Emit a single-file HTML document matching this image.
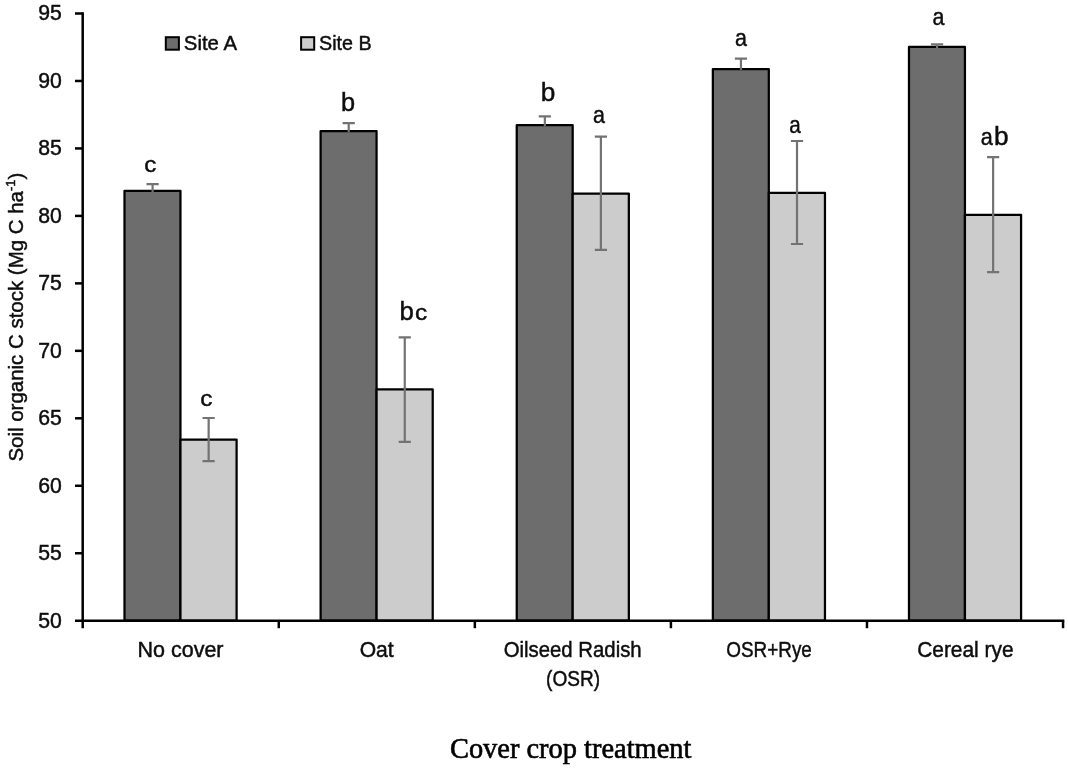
<!DOCTYPE html>
<html lang="en"><head><meta charset="utf-8"><title>Soil organic C stock by cover crop treatment</title>
<style>html,body{margin:0;padding:0;background:#fff}svg{display:block}</style></head>
<body>
<svg width="1068" height="772" viewBox="0 0 1068 772">
<rect width="1068" height="772" fill="#fff"/>
<rect x="124.50" y="190.85" width="55.95" height="429.85" fill="#6d6d6d" stroke="#000" stroke-width="2.25" stroke-linejoin="round"/>
<rect x="180.45" y="439.60" width="56.15" height="181.10" fill="#cccccc" stroke="#000" stroke-width="2.25" stroke-linejoin="round"/>
<rect x="320.62" y="131.20" width="55.95" height="489.50" fill="#6d6d6d" stroke="#000" stroke-width="2.25" stroke-linejoin="round"/>
<rect x="376.57" y="389.40" width="56.15" height="231.30" fill="#cccccc" stroke="#000" stroke-width="2.25" stroke-linejoin="round"/>
<rect x="516.74" y="125.20" width="55.95" height="495.50" fill="#6d6d6d" stroke="#000" stroke-width="2.25" stroke-linejoin="round"/>
<rect x="572.69" y="193.50" width="56.15" height="427.20" fill="#cccccc" stroke="#000" stroke-width="2.25" stroke-linejoin="round"/>
<rect x="712.86" y="69.00" width="55.95" height="551.70" fill="#6d6d6d" stroke="#000" stroke-width="2.25" stroke-linejoin="round"/>
<rect x="768.81" y="192.80" width="56.15" height="427.90" fill="#cccccc" stroke="#000" stroke-width="2.25" stroke-linejoin="round"/>
<rect x="908.98" y="46.90" width="55.95" height="573.80" fill="#6d6d6d" stroke="#000" stroke-width="2.25" stroke-linejoin="round"/>
<rect x="964.93" y="214.90" width="56.15" height="405.80" fill="#cccccc" stroke="#000" stroke-width="2.25" stroke-linejoin="round"/>
<path d="M146.50 184.20H158.70M152.60 184.20V191.95" stroke="#737373" stroke-width="2.2" fill="none"/>
<path d="M202.55 418.00H214.75M208.65 418.00V461.10M202.55 461.10H214.75" stroke="#737373" stroke-width="2.2" fill="none"/>
<path d="M342.62 123.10H354.82M348.72 123.10V132.30" stroke="#737373" stroke-width="2.2" fill="none"/>
<path d="M398.67 337.30H410.87M404.77 337.30V441.90M398.67 441.90H410.87" stroke="#737373" stroke-width="2.2" fill="none"/>
<path d="M538.74 116.30H550.94M544.84 116.30V126.30" stroke="#737373" stroke-width="2.2" fill="none"/>
<path d="M594.79 136.60H606.99M600.89 136.60V249.80M594.79 249.80H606.99" stroke="#737373" stroke-width="2.2" fill="none"/>
<path d="M734.86 58.70H747.06M740.96 58.70V70.10" stroke="#737373" stroke-width="2.2" fill="none"/>
<path d="M790.91 141.00H803.11M797.01 141.00V244.00M790.91 244.00H803.11" stroke="#737373" stroke-width="2.2" fill="none"/>
<path d="M930.98 44.30H943.18M937.08 44.30V48.00" stroke="#737373" stroke-width="2.2" fill="none"/>
<path d="M987.03 157.10H999.23M993.13 157.10V272.20M987.03 272.20H999.23" stroke="#737373" stroke-width="2.2" fill="none"/>
<path d="M82.7 12.25V628.20M75.00 620.7H1064.30" stroke="#000" stroke-width="2.5" fill="none"/>
<path d="M75.00 13.50H82.7" stroke="#000" stroke-width="2.5"/>
<text x="61.8" y="20.40" text-anchor="end" font-family='"Liberation Sans", sans-serif' font-size="21.2" fill="#0d0d0d" stroke="#0d0d0d" stroke-width="0.45" textLength="23.6" lengthAdjust="spacingAndGlyphs">95</text>
<path d="M75.00 80.97H82.7" stroke="#000" stroke-width="2.5"/>
<text x="61.8" y="87.87" text-anchor="end" font-family='"Liberation Sans", sans-serif' font-size="21.2" fill="#0d0d0d" stroke="#0d0d0d" stroke-width="0.45" textLength="23.6" lengthAdjust="spacingAndGlyphs">90</text>
<path d="M75.00 148.43H82.7" stroke="#000" stroke-width="2.5"/>
<text x="61.8" y="155.33" text-anchor="end" font-family='"Liberation Sans", sans-serif' font-size="21.2" fill="#0d0d0d" stroke="#0d0d0d" stroke-width="0.45" textLength="23.6" lengthAdjust="spacingAndGlyphs">85</text>
<path d="M75.00 215.90H82.7" stroke="#000" stroke-width="2.5"/>
<text x="61.8" y="222.80" text-anchor="end" font-family='"Liberation Sans", sans-serif' font-size="21.2" fill="#0d0d0d" stroke="#0d0d0d" stroke-width="0.45" textLength="23.6" lengthAdjust="spacingAndGlyphs">80</text>
<path d="M75.00 283.37H82.7" stroke="#000" stroke-width="2.5"/>
<text x="61.8" y="290.27" text-anchor="end" font-family='"Liberation Sans", sans-serif' font-size="21.2" fill="#0d0d0d" stroke="#0d0d0d" stroke-width="0.45" textLength="23.6" lengthAdjust="spacingAndGlyphs">75</text>
<path d="M75.00 350.83H82.7" stroke="#000" stroke-width="2.5"/>
<text x="61.8" y="357.73" text-anchor="end" font-family='"Liberation Sans", sans-serif' font-size="21.2" fill="#0d0d0d" stroke="#0d0d0d" stroke-width="0.45" textLength="23.6" lengthAdjust="spacingAndGlyphs">70</text>
<path d="M75.00 418.30H82.7" stroke="#000" stroke-width="2.5"/>
<text x="61.8" y="425.20" text-anchor="end" font-family='"Liberation Sans", sans-serif' font-size="21.2" fill="#0d0d0d" stroke="#0d0d0d" stroke-width="0.45" textLength="23.6" lengthAdjust="spacingAndGlyphs">65</text>
<path d="M75.00 485.77H82.7" stroke="#000" stroke-width="2.5"/>
<text x="61.8" y="492.67" text-anchor="end" font-family='"Liberation Sans", sans-serif' font-size="21.2" fill="#0d0d0d" stroke="#0d0d0d" stroke-width="0.45" textLength="23.6" lengthAdjust="spacingAndGlyphs">60</text>
<path d="M75.00 553.23H82.7" stroke="#000" stroke-width="2.5"/>
<text x="61.8" y="560.13" text-anchor="end" font-family='"Liberation Sans", sans-serif' font-size="21.2" fill="#0d0d0d" stroke="#0d0d0d" stroke-width="0.45" textLength="23.6" lengthAdjust="spacingAndGlyphs">55</text>
<text x="61.8" y="627.60" text-anchor="end" font-family='"Liberation Sans", sans-serif' font-size="21.2" fill="#0d0d0d" stroke="#0d0d0d" stroke-width="0.45" textLength="23.6" lengthAdjust="spacingAndGlyphs">50</text>
<path d="M278.77 620.7V628.20" stroke="#000" stroke-width="2.5"/>
<path d="M474.84 620.7V628.20" stroke="#000" stroke-width="2.5"/>
<path d="M670.91 620.7V628.20" stroke="#000" stroke-width="2.5"/>
<path d="M866.98 620.7V628.20" stroke="#000" stroke-width="2.5"/>
<path d="M1063.05 620.7V628.20" stroke="#000" stroke-width="2.5"/>
<text x="180.50" y="657.2" text-anchor="middle" font-family='"Liberation Sans", sans-serif' font-size="21.3" fill="#0d0d0d" stroke="#0d0d0d" stroke-width="0.45" textLength="86" lengthAdjust="spacingAndGlyphs">No cover</text>
<text x="376.70" y="657.2" text-anchor="middle" font-family='"Liberation Sans", sans-serif' font-size="21.3" fill="#0d0d0d" stroke="#0d0d0d" stroke-width="0.45" textLength="34" lengthAdjust="spacingAndGlyphs">Oat</text>
<text x="572.70" y="657.2" text-anchor="middle" font-family='"Liberation Sans", sans-serif' font-size="21.3" fill="#0d0d0d" stroke="#0d0d0d" stroke-width="0.45" textLength="138" lengthAdjust="spacingAndGlyphs">Oilseed Radish</text>
<text x="573.10" y="686.4" text-anchor="middle" font-family='"Liberation Sans", sans-serif' font-size="21.3" fill="#0d0d0d" stroke="#0d0d0d" stroke-width="0.45" textLength="54" lengthAdjust="spacingAndGlyphs">(OSR)</text>
<text x="769.10" y="657.2" text-anchor="middle" font-family='"Liberation Sans", sans-serif' font-size="21.3" fill="#0d0d0d" stroke="#0d0d0d" stroke-width="0.45" textLength="85.5" lengthAdjust="spacingAndGlyphs">OSR+Rye</text>
<text x="965.40" y="657.2" text-anchor="middle" font-family='"Liberation Sans", sans-serif' font-size="21.3" fill="#0d0d0d" stroke="#0d0d0d" stroke-width="0.45" textLength="96.5" lengthAdjust="spacingAndGlyphs">Cereal rye</text>
<rect x="165.8" y="37.2" width="13.1" height="12.5" fill="#6d6d6d" stroke="#000" stroke-width="2"/>
<rect x="301.1" y="37.2" width="13.1" height="12.5" fill="#cccccc" stroke="#000" stroke-width="2"/>
<text x="183.8" y="50" font-family='"Liberation Sans", sans-serif' font-size="20.6" fill="#0d0d0d" stroke="#0d0d0d" stroke-width="0.45" textLength="53.2" lengthAdjust="spacingAndGlyphs">Site A</text>
<text x="319.1" y="50" font-family='"Liberation Sans", sans-serif' font-size="20.6" fill="#0d0d0d" stroke="#0d0d0d" stroke-width="0.45" textLength="52.6" lengthAdjust="spacingAndGlyphs">Site B</text>
<text x="144.36" y="172.2" font-family='"Liberation Sans", sans-serif' font-size="22.4" fill="#0d0d0d" stroke="#0d0d0d" stroke-width="0.45" textLength="12.06" lengthAdjust="spacingAndGlyphs">c</text>
<text x="200.35" y="406.1" font-family='"Liberation Sans", sans-serif' font-size="22.4" fill="#0d0d0d" stroke="#0d0d0d" stroke-width="0.45" textLength="12.18" lengthAdjust="spacingAndGlyphs">c</text>
<text x="340.93" y="111.2" font-family='"Liberation Sans", sans-serif' font-size="25.2" fill="#0d0d0d" stroke="#0d0d0d" stroke-width="0.45" textLength="14.09" lengthAdjust="spacingAndGlyphs">b</text>
<text x="399.50" y="319.7" font-family='"Liberation Sans", sans-serif' font-size="25.2" fill="#0d0d0d" stroke="#0d0d0d" stroke-width="0.45" textLength="14.33" lengthAdjust="spacingAndGlyphs">b</text>
<text x="415.05" y="319.7" font-family='"Liberation Sans", sans-serif' font-size="22.4" fill="#0d0d0d" stroke="#0d0d0d" stroke-width="0.45" textLength="12.18" lengthAdjust="spacingAndGlyphs">c</text>
<text x="540.67" y="100.8" font-family='"Liberation Sans", sans-serif' font-size="25.2" fill="#0d0d0d" stroke="#0d0d0d" stroke-width="0.45" textLength="14.58" lengthAdjust="spacingAndGlyphs">b</text>
<text x="592.88" y="122.7" font-family='"Liberation Sans", sans-serif' font-size="24.4" fill="#0d0d0d" stroke="#0d0d0d" stroke-width="0.45" textLength="11.95" lengthAdjust="spacingAndGlyphs">a</text>
<text x="734.88" y="45.5" font-family='"Liberation Sans", sans-serif' font-size="24.4" fill="#0d0d0d" stroke="#0d0d0d" stroke-width="0.45" textLength="11.95" lengthAdjust="spacingAndGlyphs">a</text>
<text x="789.31" y="133.1" font-family='"Liberation Sans", sans-serif' font-size="24.4" fill="#0d0d0d" stroke="#0d0d0d" stroke-width="0.45" textLength="11.50" lengthAdjust="spacingAndGlyphs">a</text>
<text x="932.48" y="24.8" font-family='"Liberation Sans", sans-serif' font-size="24.4" fill="#0d0d0d" stroke="#0d0d0d" stroke-width="0.45" textLength="11.95" lengthAdjust="spacingAndGlyphs">a</text>
<text x="980.77" y="145.1" font-family='"Liberation Sans", sans-serif' font-size="24.4" fill="#0d0d0d" stroke="#0d0d0d" stroke-width="0.45" textLength="12.07" lengthAdjust="spacingAndGlyphs">a</text>
<text x="994.07" y="145.1" font-family='"Liberation Sans", sans-serif' font-size="25.2" fill="#0d0d0d" stroke="#0d0d0d" stroke-width="0.45" textLength="14.58" lengthAdjust="spacingAndGlyphs">b</text>
<text transform="translate(23.3 317.1) rotate(-90)" text-anchor="middle" font-family='"Liberation Sans", sans-serif' font-size="19.6" fill="#0d0d0d" stroke="#0d0d0d" stroke-width="0.45" textLength="289" lengthAdjust="spacingAndGlyphs">Soil organic C stock (Mg C ha<tspan font-size="12.5" dy="-8.5">-1</tspan><tspan dy="8.5">)</tspan></text>
<text x="570.7" y="758" text-anchor="middle" font-family='"Liberation Serif", serif' font-size="28.6" fill="#000" stroke="#000" stroke-width="0.6" textLength="241.5" lengthAdjust="spacingAndGlyphs">Cover crop treatment</text>
</svg>
</body></html>
